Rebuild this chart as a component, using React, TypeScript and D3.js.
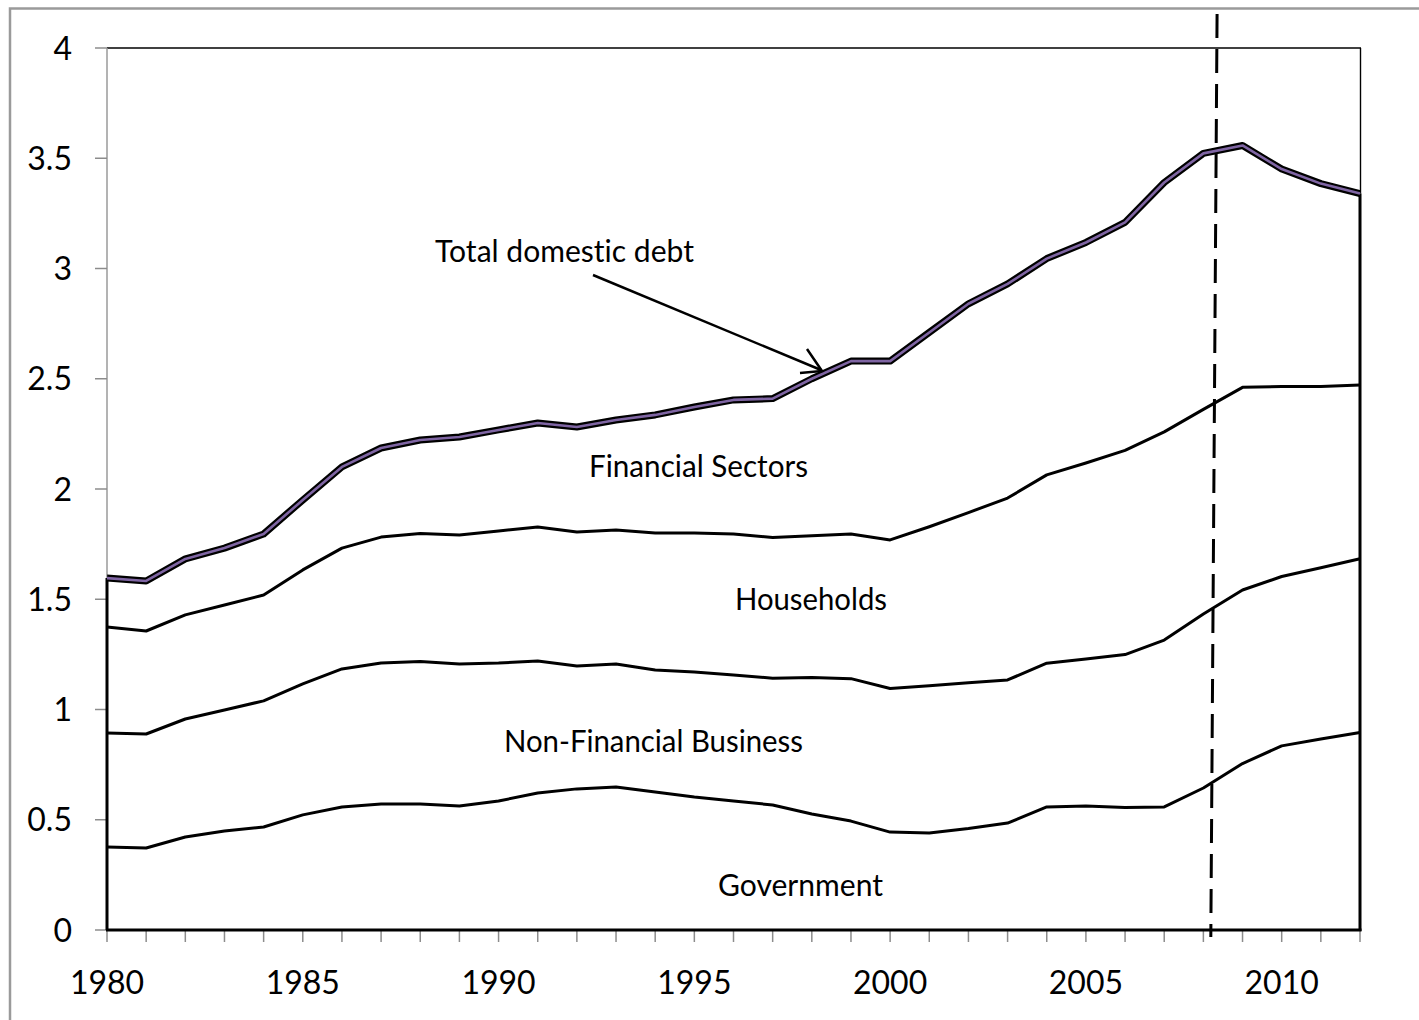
import React from "react";
import * as d3 from "d3";

const years: number[] = d3.range(1980, 2013);

const government: number[] = [0.376, 0.372, 0.422, 0.449, 0.467, 0.522, 0.558, 0.571, 0.571, 0.562, 0.585, 0.621, 0.640, 0.649, 0.626, 0.603, 0.585, 0.567, 0.526, 0.494, 0.444, 0.440, 0.460, 0.485, 0.558, 0.562, 0.556, 0.558, 0.644, 0.755, 0.835, 0.866, 0.896];
const nonFinancialBusiness: number[] = [0.517, 0.517, 0.535, 0.549, 0.572, 0.594, 0.626, 0.640, 0.647, 0.644, 0.626, 0.599, 0.557, 0.557, 0.553, 0.567, 0.571, 0.575, 0.619, 0.646, 0.651, 0.668, 0.661, 0.649, 0.652, 0.667, 0.693, 0.757, 0.789, 0.787, 0.768, 0.777, 0.788];
const households: number[] = [0.481, 0.467, 0.472, 0.476, 0.480, 0.517, 0.548, 0.571, 0.580, 0.585, 0.599, 0.608, 0.608, 0.608, 0.621, 0.630, 0.640, 0.638, 0.643, 0.656, 0.674, 0.721, 0.772, 0.825, 0.854, 0.889, 0.926, 0.944, 0.928, 0.919, 0.862, 0.822, 0.788];
const financialSectors: number[] = [0.222, 0.227, 0.254, 0.258, 0.277, 0.317, 0.368, 0.404, 0.424, 0.445, 0.458, 0.471, 0.476, 0.499, 0.536, 0.572, 0.608, 0.630, 0.712, 0.784, 0.811, 0.881, 0.947, 0.971, 0.981, 1.000, 1.034, 1.131, 1.161, 1.097, 0.986, 0.920, 0.868];

const seriesKeys = ["Government", "Non-Financial Business", "Households", "Financial Sectors"];
const yTicks: number[] = [0, 0.5, 1, 1.5, 2, 2.5, 3, 3.5, 4];
const xTickLabels: number[] = [1980, 1985, 1990, 1995, 2000, 2005, 2010];
const crisisTop = 2008.35;
const crisisBottom = 2008.19;

const FONT = "Lato, 'Open Sans', sans-serif";

export default function App() {
  const table = years.map((yr, i) => ({
    year: yr,
    Government: government[i],
    "Non-Financial Business": nonFinancialBusiness[i],
    Households: households[i],
    "Financial Sectors": financialSectors[i],
  }));
  const stacked = d3.stack<any>().keys(seriesKeys)(table);

  const x = d3.scaleLinear().domain([1980, 2012]).range([107, 1360]);
  const y = d3.scaleLinear().domain([0, 4]).range([930, 48]);

  const area = d3
    .area<any>()
    .x((d) => x(d.data.year))
    .y0((d) => y(d[0]))
    .y1((d) => y(d[1]));
  const line = d3
    .line<any>()
    .x((d) => x(d.data.year))
    .y((d) => y(d[1]));

  const top = stacked[stacked.length - 1];
  const firstTotal = top[0][1];
  const lastTotal = top[top.length - 1][1];
  const x0 = x(1980);
  const x1 = x(2012);

  const labels = [
    { text: "Total domestic debt", x: 435, y: 262, w: 259 },
    { text: "Financial Sectors", x: 589, y: 477, w: 219 },
    { text: "Households", x: 735, y: 610, w: 152 },
    { text: "Non-Financial Business", x: 504, y: 752, w: 299 },
    { text: "Government", x: 718, y: 896, w: 165 },
  ];

  const textStyle = { fontVariantLigatures: "none" } as React.CSSProperties;

  return (
    <svg
      width={1419}
      height={1020}
      style={{ position: "absolute", left: 0, top: 0, background: "#fff" }}
    >
      <rect x={0} y={0} width={1419} height={1020} fill="#fff" />
      {/* outer frame */}
      <path d="M10,1030 L10,8.5 L1430,8.5" fill="none" stroke="#9a9a9a" strokeWidth={2.5} />

      {/* plot border top/right */}
      <line x1={x0} y1={y(4)} x2={x1 + 1} y2={y(4)} stroke="#000" strokeWidth={1.4} />
      <line x1={x1 + 0.5} y1={y(4)} x2={x1 + 0.5} y2={y(lastTotal)} stroke="#000" strokeWidth={1.4} />
      {/* left axis line */}
      <line x1={x0} y1={y(4)} x2={x0} y2={y(0)} stroke="#9a9a9a" strokeWidth={1.5} />

      {/* y ticks */}
      {yTicks.map((t) => (
        <g key={"yt" + t}>
          <line x1={95} x2={x0} y1={y(t)} y2={y(t)} stroke="#8c8c8c" strokeWidth={1.5} />
          <text
            x={72}
            y={y(t) + 11.5}
            textAnchor="end"
            fontFamily={FONT}
            fontSize={32}
            fill="#000"
            style={textStyle}
          >
            {String(t)}
          </text>
        </g>
      ))}

      {/* x ticks */}
      {years.map((yr) => (
        <line key={"xt" + yr} x1={x(yr)} x2={x(yr)} y1={y(0)} y2={y(0) + 12} stroke="#8c8c8c" strokeWidth={1.5} />
      ))}
      {xTickLabels.map((yr) => (
        <text key={"xl" + yr} x={x(yr)} y={994} textAnchor="middle" fontFamily={FONT} fontSize={32} fill="#000" style={textStyle}>
          {String(yr)}
        </text>
      ))}

      {/* area fills */}
      {stacked.map((s) => (
        <path key={"a" + s.key} d={area(s) || ""} fill="#fff" stroke="none" />
      ))}

      {/* boundaries */}
      {stacked.slice(0, stacked.length - 1).map((s) => (
        <path key={"l" + s.key} d={line(s) || ""} fill="none" stroke="#000" strokeWidth={3} strokeLinejoin="round" />
      ))}
      <line x1={x0} y1={y(firstTotal)} x2={x0} y2={y(0)} stroke="#000" strokeWidth={3} />
      <line x1={x1} y1={y(lastTotal)} x2={x1} y2={y(0) + 1} stroke="#000" strokeWidth={3} />
      <line x1={x0 - 1} y1={y(0)} x2={x1 + 1.5} y2={y(0)} stroke="#000" strokeWidth={3} />

      <path d={line(top) || ""} fill="none" stroke="#000" strokeWidth={7} strokeLinejoin="round" />
      <path d={line(top) || ""} fill="none" stroke="#7f65a3" strokeWidth={2.6} strokeLinejoin="round" />

      {/* crisis dashed line */}
      <line
        x1={x(crisisTop)}
        y1={14}
        x2={x(crisisBottom)}
        y2={937}
        stroke="#000"
        strokeWidth={3}
        strokeDasharray="24 11"
      />

      {/* annotation arrow */}
      <line x1={593} y1={275} x2={821} y2={370} stroke="#000" strokeWidth={2.5} />
      <path d="M807,349 L822,371 L800,373" fill="none" stroke="#000" strokeWidth={2.5} strokeLinejoin="miter" />

      {/* labels */}
      {labels.map((l) => (
        <text
          key={l.text}
          x={l.x}
          y={l.y}
          fontFamily={FONT}
          fontSize={31}
          fill="#000"
          textLength={l.w}
          lengthAdjust="spacingAndGlyphs"
          style={textStyle}
        >
          {l.text}
        </text>
      ))}
    </svg>
  );
}
